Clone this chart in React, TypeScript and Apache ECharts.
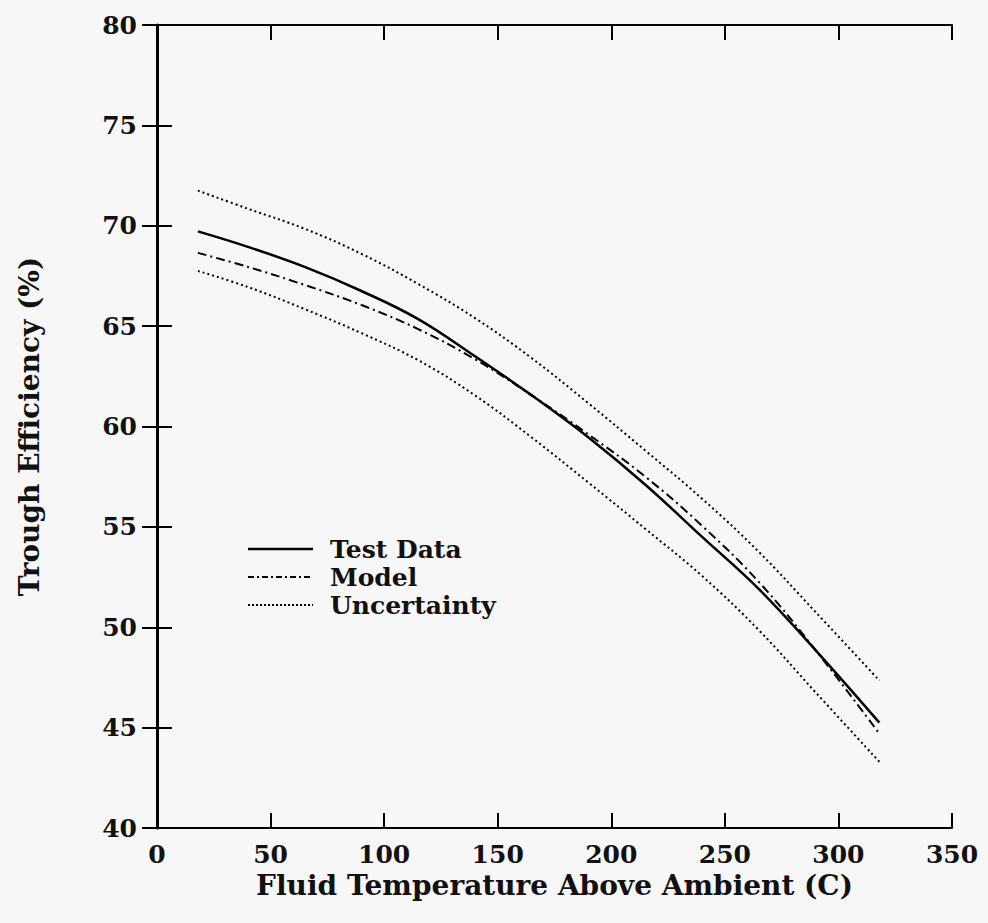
import React, { useEffect, useRef } from "react";
import * as echarts from "echarts";

const xs = [18, 40, 65, 90, 115, 140, 165, 190, 215, 240, 265, 290, 318];
const testData = [69.72, 68.95, 67.95, 66.75, 65.35, 63.5, 61.55, 59.45, 57.1, 54.5, 51.9, 48.85, 45.25];
const modelData = [68.65, 67.95, 67.05, 66.05, 64.85, 63.35, 61.55, 59.6, 57.5, 55.05, 52.25, 48.85, 44.7];
const upperData = [71.75, 70.85, 69.85, 68.6, 67.1, 65.4, 63.4, 61.15, 58.8, 56.4, 53.75, 50.75, 47.35];
const lowerData = [67.75, 66.95, 65.85, 64.65, 63.3, 61.55, 59.45, 57.2, 54.9, 52.55, 49.85, 46.75, 43.3];

const xTicks = [0, 50, 100, 150, 200, 250, 300, 350];
const yTicks = [40, 45, 50, 55, 60, 65, 70, 75, 80];
const legendNames = ["Test Data", "Model", "Uncertainty"];

const FONT = "DejaVu Serif";

export default function App() {
  const ref = useRef<HTMLDivElement>(null);
  useEffect(() => {
    if (!ref.current) return;
    const chart = echarts.init(ref.current, undefined, { renderer: "svg" });
    const pair = (ys: number[]) => xs.map((x, i) => [x, ys[i]]);
    const tickStyle = { show: true, inside: true, length: 15, lineStyle: { color: "#000", width: 2 } };
    const baseX = {
      type: "value",
      min: xTicks[0],
      max: xTicks[xTicks.length - 1],
      interval: 50,
      splitLine: { show: false },
    };
    const baseY = {
      type: "value",
      min: yTicks[0],
      max: yTicks[yTicks.length - 1],
      interval: 5,
      splitLine: { show: false },
    };
    const lx = 248, lx2 = 313, tx = 330;
    const ly = [549, 577, 605];
    const titleStyle = { fontFamily: FONT, fontWeight: "bold", fontSize: 28, color: "#111" };
    const mk = (name: string, ys: number[], width: number, type: any) => ({
      name,
      type: "line",
      data: pair(ys),
      smooth: 0.4,
      showSymbol: false,
      lineStyle: { color: "#000", width, type },
    });
    chart.setOption({
      animation: false,
      backgroundColor: "#f7f7f7",
      grid: { left: 157, right: 36, top: 25, bottom: 95, containLabel: false },
      xAxis: [
        {
          ...baseX,
          position: "bottom",
          name: "Fluid Temperature Above Ambient (C)",
          nameLocation: "middle",
          nameGap: 38,
          nameTextStyle: titleStyle,
          axisLine: { show: true, lineStyle: { color: "#000", width: 2 } },
          axisTick: tickStyle,
          axisLabel: { fontFamily: FONT, fontWeight: "bold", fontSize: 25, color: "#111", margin: 14 },
        },
        {
          ...baseX,
          position: "top",
          axisLine: { show: true, lineStyle: { color: "#000", width: 2 } },
          axisTick: tickStyle,
          axisLabel: { show: false },
        },
      ],
      yAxis: [
        {
          ...baseY,
          position: "left",
          name: "Trough Efficiency (%)",
          nameLocation: "middle",
          nameGap: 114,
          nameRotate: 90,
          nameTextStyle: titleStyle,
          axisLine: { show: true, lineStyle: { color: "#000", width: 3 } },
          axisTick: tickStyle,
          axisLabel: { fontFamily: FONT, fontWeight: "bold", fontSize: 25, color: "#111", margin: 20 },
        },
        {
          ...baseY,
          position: "right",
          axisLine: { show: true, lineStyle: { color: "#000", width: 2 } },
          axisTick: tickStyle,
          axisLabel: { show: false },
        },
      ],
      series: [
        mk(legendNames[0], testData, 2.5, "solid"),
        mk(legendNames[1], modelData, 2, [9, 4, 2, 4]),
        mk(legendNames[2], upperData, 2, [2, 3]),
        mk(legendNames[2] + " ", lowerData, 2, [2, 3]),
      ],
      graphic: [
        { type: "line", shape: { x1: lx, y1: ly[0], x2: lx2, y2: ly[0] }, style: { stroke: "#000", lineWidth: 2.5 } },
        { type: "line", shape: { x1: lx, y1: ly[1], x2: lx2, y2: ly[1] }, style: { stroke: "#000", lineWidth: 2, lineDash: [6, 3, 2, 3] } },
        { type: "line", shape: { x1: lx, y1: ly[2], x2: lx2, y2: ly[2] }, style: { stroke: "#000", lineWidth: 2, lineDash: [2, 2] } },
        ...legendNames.map((n, i) => ({
          type: "text",
          x: tx,
          y: ly[i],
          style: {
            text: n,
            fontFamily: FONT,
            fontWeight: "bold",
            fontSize: 25,
            lineHeight: 25,
            fill: "#111",
            verticalAlign: "middle",
          },
        })),
      ],
    });
    return () => chart.dispose();
  }, []);
  return (
    <div
      ref={ref}
      style={{ position: "fixed", left: 0, top: 0, width: 988, height: 923 }}
    />
  );
}
